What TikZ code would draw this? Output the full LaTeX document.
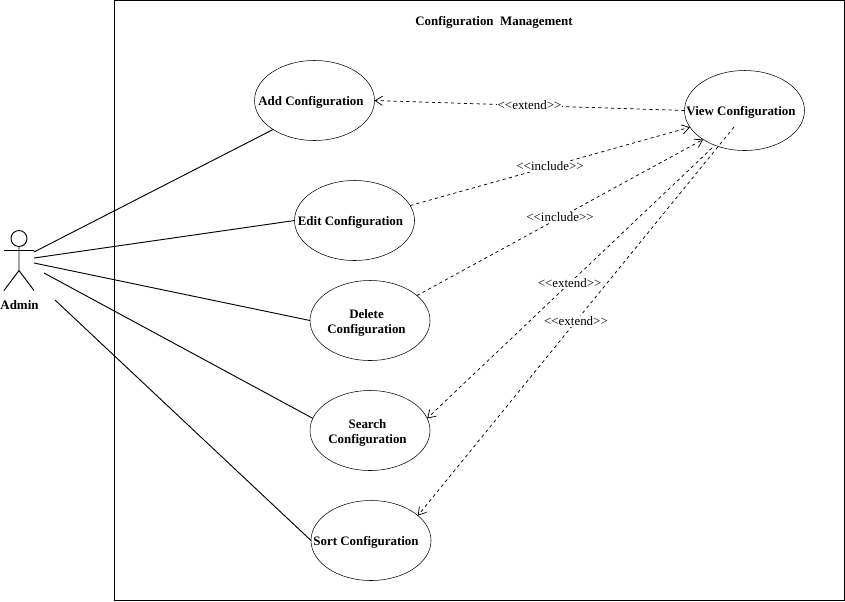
\documentclass[tikz,border=0pt]{standalone}
\usepackage{fontspec}
\usepackage{xcolor}
\setmainfont{Liberation Serif}
\usetikzlibrary{arrows.meta}
\usetikzlibrary{shapes.geometric}

\tikzset{
  usecase/.style={draw=black, fill=white, ellipse, minimum width=90pt, minimum height=60pt, inner sep=0pt, outer sep=0pt},
  casetext/.style={align=center, inner sep=0pt, font=\fontsize{9.7}{11.25}\selectfont\bfseries},
  assoc/.style={draw=black, line width=0.7pt},
  depend/.style={draw=black, line width=0.55pt, dash pattern=on 2.4pt off 2.4pt, -{Straight Barb[length=5.5pt,width=7pt]}},
  stereo/.style={fill=white, inner sep=0.5pt, font=\fontsize{9.7}{11}\selectfont},
}

\begin{document}
\begin{tikzpicture}[x=0.75pt,y=-0.75pt]
  \useasboundingbox (0,0) rectangle (845,601);

  \draw[line width=0.7pt] (114.5,0.5) rectangle (844.5,600.5);
  \node[casetext] (title) at (494,22) {Configuration\ \ Management};

  % actor
  \draw[line width=0.7pt] (19,238.5) circle (6pt);
  \draw[line width=0.7pt] (19,246.5) -- (19,270.5) (4,250.5) -- (34,250.5) (4,290.5) -- (19,270.5) -- (34,290.5);
  \node[casetext] (admin) at (19.5,305) {Admin};

  % use cases
  \node[usecase] (add) at (314.5,100.5) {};
  \node[usecase] (edit) at (354.5,220.5) {};
  \node[usecase] (delete) at (370,320.5) {};
  \node[usecase] (search) at (370,430.5) {};
  \node[usecase] (sort) at (371,540.5) {};
  \node[usecase] (view) at (744.5,110.5) {};

  \coordinate (adminA) at (34,252);
  \coordinate (adminB) at (34,258);
  \coordinate (adminC) at (34,263);
  \coordinate (adminD) at (44,273);
  \coordinate (adminE) at (55,300);
  \coordinate (viewA) at (712,148);
  \coordinate (viewB) at (734,127);

  \draw[assoc] (adminA) -- (add.215);
  \draw[assoc] (adminB) -- (edit.west);
  \draw[assoc] (adminC) -- (delete.west);
  \draw[assoc] (adminD) -- (search.168);
  \draw[assoc] (adminE) -- (sort.west);

  \draw[depend] (view.west) -- node[stereo]{<{}<extend>{}>} (add.east);
  \draw[depend] (edit.15) -- node[stereo]{<{}<include>{}>} (view.197);
  \draw[depend] (delete.28) -- node[stereo]{<{}<include>{}>} (view.215);
  \draw[depend] (viewA) -- node[stereo]{<{}<extend>{}>} (search.12);
  \draw[depend] (viewB) -- node[stereo]{<{}<extend>{}>} (sort.28);

  \node[casetext] (addText) at (311,102) {Add Configuration};
  \node[casetext] (editText) at (350.5,222) {Edit Configuration};
  \node[casetext] (deleteText) at (366.5,322.5) {Delete\\Configuration};
  \node[casetext] (searchText) at (367.5,432.5) {Search\\Configuration};
  \node[casetext] (sortText) at (366,542) {Sort Configuration};
  \node[casetext] (viewText) at (741,112) {View Configuration};
\end{tikzpicture}
\end{document}
